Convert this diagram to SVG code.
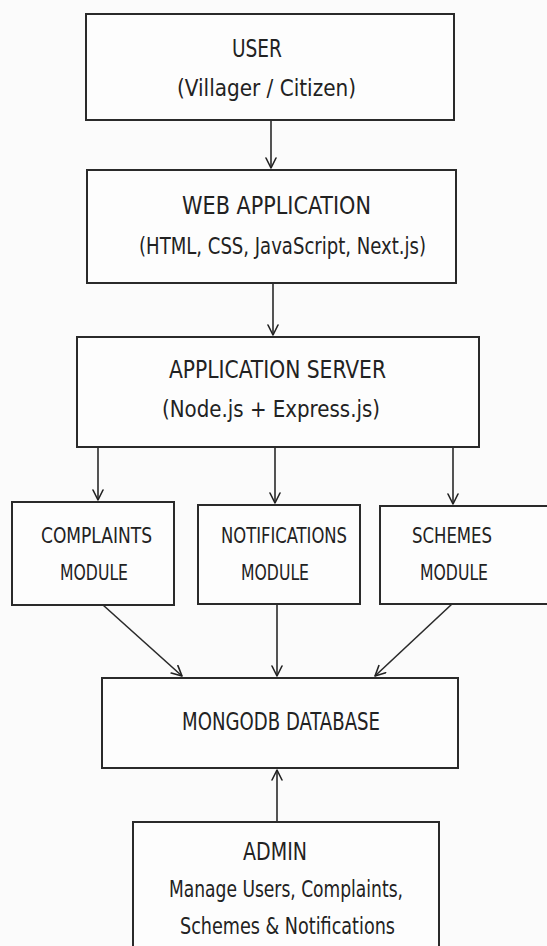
<svg xmlns="http://www.w3.org/2000/svg" width="547" height="946" viewBox="0 0 547 946">
<defs>
<marker id="arr" viewBox="0 0 12 12" refX="11" refY="6" markerWidth="12" markerHeight="12" markerUnits="userSpaceOnUse" orient="auto">
<path d="M1,1 L11,6 L1,11" fill="none" stroke="#222" stroke-width="1.6" stroke-linecap="round" stroke-linejoin="round"/>
</marker>
<style>
.box{fill:#fdfdfd;stroke:#2a2a2a;stroke-width:2}
.t{font-family:"DejaVu Sans Condensed","Liberation Sans",sans-serif;fill:#222;font-stretch:condensed}
.h{font-size:25px}
.s{font-size:23px}
.m{font-size:22px}
.c{stroke:#2a2a2a;stroke-width:1.6;fill:none;marker-end:url(#arr)}
</style>
</defs>
<rect width="547" height="946" fill="#fbfbfb"/>
<g id="connectors">
<line class="c" x1="271" y1="120" x2="271" y2="168"/>
<line class="c" x1="273" y1="283" x2="273" y2="335"/>
<line class="c" x1="98" y1="447" x2="98" y2="500"/>
<line class="c" x1="275" y1="447" x2="275" y2="503"/>
<line class="c" x1="453" y1="447" x2="453" y2="504"/>
<line class="c" x1="103" y1="605" x2="182" y2="676"/>
<line class="c" x1="277" y1="604" x2="277" y2="676"/>
<line class="c" x1="452" y1="604" x2="375" y2="676"/>
<line class="c" x1="277" y1="822" x2="277" y2="770"/>
</g>
<g id="user">
<rect class="box" x="86" y="14" width="368" height="106"/>
<text class="t h" x="232" y="57" textLength="50" lengthAdjust="spacingAndGlyphs">USER</text>
<text class="t s" x="177" y="96" textLength="179" lengthAdjust="spacingAndGlyphs">(Villager / Citizen)</text>
</g>
<g id="webapp">
<rect class="box" x="87" y="170" width="369" height="113"/>
<text class="t h" x="182" y="214" textLength="189" lengthAdjust="spacingAndGlyphs">WEB APPLICATION</text>
<text class="t s" x="139" y="254" textLength="287" lengthAdjust="spacingAndGlyphs">(HTML, CSS, JavaScript, Next.js)</text>
</g>
<g id="appserver">
<rect class="box" x="77" y="337" width="402" height="110"/>
<text class="t h" x="169" y="378" textLength="217" lengthAdjust="spacingAndGlyphs">APPLICATION SERVER</text>
<text class="t s" x="162" y="417" textLength="218" lengthAdjust="spacingAndGlyphs">(Node.js + Express.js)</text>
</g>
<g id="complaints">
<rect class="box" x="12" y="502" width="162" height="103"/>
<text class="t m" x="41" y="543" textLength="111" lengthAdjust="spacingAndGlyphs">COMPLAINTS</text>
<text class="t m" x="60" y="580" textLength="68" lengthAdjust="spacingAndGlyphs">MODULE</text>
</g>
<g id="notifications">
<rect class="box" x="198" y="505" width="162" height="99"/>
<text class="t m" x="221" y="543" textLength="126" lengthAdjust="spacingAndGlyphs">NOTIFICATIONS</text>
<text class="t m" x="241" y="580" textLength="68" lengthAdjust="spacingAndGlyphs">MODULE</text>
</g>
<g id="schemes">
<rect class="box" x="380" y="506" width="170" height="98"/>
<text class="t m" x="412" y="543" textLength="80" lengthAdjust="spacingAndGlyphs">SCHEMES</text>
<text class="t m" x="420" y="580" textLength="68" lengthAdjust="spacingAndGlyphs">MODULE</text>
</g>
<g id="mongodb">
<rect class="box" x="102" y="678" width="356" height="90"/>
<text class="t h" x="182" y="730" textLength="198" lengthAdjust="spacingAndGlyphs">MONGODB DATABASE</text>
</g>
<g id="admin">
<rect class="box" x="133" y="822" width="306" height="140"/>
<text class="t h" x="243" y="860" textLength="64" lengthAdjust="spacingAndGlyphs">ADMIN</text>
<text class="t s" x="169" y="897" textLength="234" lengthAdjust="spacingAndGlyphs">Manage Users, Complaints,</text>
<text class="t s" x="180" y="934" textLength="215" lengthAdjust="spacingAndGlyphs">Schemes &amp; Notifications</text>
</g>
</svg>
